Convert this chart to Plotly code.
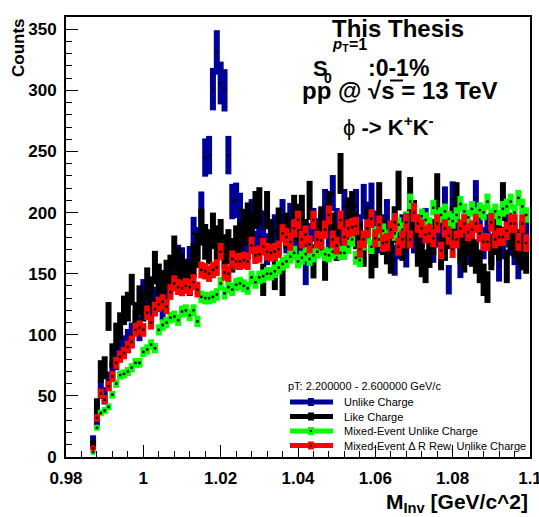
import numpy as np
import plotly.graph_objects as go

# Invariant-mass binning: 1 MeV/c^2 bins, centres from 0.987 to 1.099 GeV/c^2
bin_lo = 0.987
bin_w = 0.001
n_bins = 113
m_inv = np.round(bin_lo + bin_w * np.arange(n_bins), 4)

# Counts per bin
unlike = [14, 30, 55, 50, 62, 70, 80, 92, 90, 95,
          100, 110, 105, 134, 125, 120, 128, 130, 123, 140,
          145, 150, 161, 159, 150, 160, 183, 175, 203, 245,
          247, 301, 331, 306, 300, 247, 209, 210, 202, 180,
          175, 197, 172, 180, 188, 170, 175, 185, 178, 197,
          180, 194, 185, 175, 180, 153, 178, 190, 182, 185,
          205, 175, 216, 190, 180, 205, 185, 190, 205, 185,
          209, 195, 210, 188, 180, 185, 197, 180, 161, 175,
          185, 168, 190, 180, 175, 185, 190, 180, 172, 185,
          190, 207, 145, 211, 185, 159, 175, 170, 180, 212,
          190, 175, 185, 170, 180, 156, 175, 185, 178, 170,
          158, 180, 185]

like = [10, 41, 70, 73, 115, 83, 99, 107, 120, 123,
        137, 115, 128, 123, 142, 135, 155, 145, 140, 148,
        152, 167, 158, 153, 148, 145, 161, 169, 188, 176,
        172, 185, 175, 180, 168, 172, 165, 175, 178, 188,
        193, 185, 202, 205, 145, 202, 180, 150, 189, 145,
        185, 175, 199, 192, 199, 180, 210, 160, 178, 190,
        158, 202, 185, 175, 232, 180, 197, 202, 185, 178,
        170, 190, 160, 169, 209, 180, 172, 164, 190, 218,
        175, 185, 213, 195, 170, 161, 156, 169, 180, 216,
        167, 175, 185, 190, 209, 172, 165, 180, 170, 164,
        156, 145, 139, 167, 180, 175, 209, 156, 185, 178,
        172, 167, 164]

mixed = [4, 24, 36, 38, 41, 51, 60, 67, 68, 70,
         73, 77, 77, 86, 88, 92, 89, 104, 108, 110,
         114, 115, 112, 119, 120, 116, 120, 111, 131, 130,
         130, 131, 133, 142, 134, 139, 137, 141, 142, 140,
         138, 147, 143, 147, 148, 150, 150, 152, 155, 158,
         160, 164, 167, 160, 163, 166, 162, 165, 168, 170,
         166, 165, 168, 170, 167, 167, 172, 178, 163, 161,
         175, 180, 172, 183, 178, 185, 180, 187, 183, 190,
         186, 195, 209, 200, 192, 197, 194, 190, 204, 196,
         198, 201, 195, 193, 198, 207, 201, 196, 203, 198,
         202, 200, 209, 197, 201, 196, 203, 205, 209, 200,
         212, 205, 198]

mixed_dr = [7, 32, 52, 47, 58, 66, 77, 82, 85, 90,
            94, 104, 106, 104, 118, 110, 121, 125, 127, 123,
            135, 142, 139, 138, 140, 139, 143, 137, 153, 152,
            150, 153, 155, 168, 151, 150, 162, 160, 160, 161,
            160, 173, 165, 166, 172, 168, 167, 168, 170, 183,
            180, 176, 187, 194, 178, 182, 174, 194, 178, 177,
            186, 198, 178, 173, 194, 180, 187, 188, 189, 170,
            178, 187, 195, 179, 190, 175, 176, 186, 192, 172,
            178, 192, 178, 200, 191, 187, 182, 183, 179, 191,
            169, 187, 181, 170, 178, 187, 191, 184, 186, 191,
            183, 176, 176, 192, 178, 180, 180, 185, 191, 191,
            176, 191, 175]

# Statistical errors (Poisson; mixed-event samples are normalised, hence smaller)
series = [
    ("Unlike Charge", unlike, "#000099", 1.0),
    ("Like Charge", like, "#000000", 1.1),
    ("Mixed-Event Unlike Charge", mixed, "#00ff00", 0.45),
    ("Mixed-Event \u0394 R Rew. Unlike Charge", mixed_dr, "#ff0000", 0.55),
]

FONT = "Liberation Sans"
W, H = 539, 517
L, R, T, B = 66, 9, 17, 60
PW, PH = W - L - R, H - T - B


def px(x):
    return (x - L) / PW


def py(y):
    return (H - B - y) / PH


fig = go.Figure()
for name, vals, col, ef in series:
    v = np.array(vals, dtype=float)
    fig.add_trace(go.Scatter(
        x=m_inv, y=v, mode="markers", name=name,
        marker=dict(symbol="square", size=2.5, color="black", line=dict(width=0)),
        error_y=dict(type="data", array=ef * np.sqrt(v), color=col, thickness=6, width=0),
        error_x=dict(type="constant", value=bin_w / 2, color=col, thickness=6, width=0),
        showlegend=False,
    ))

shapes = []
annotations = []


def text(s, x, y, size, xanchor="center", yanchor="middle", bold=True, angle=0, italic=False):
    annotations.append(dict(
        text=s, x=px(x), y=py(y), xref="paper", yref="paper",
        xanchor=xanchor, yanchor=yanchor, showarrow=False, textangle=angle,
        font=dict(family=FONT, size=size, color="black",
                  weight="bold" if bold else "normal",
                  style="italic" if italic else "normal"),
    ))


# Legend
text("pT: 2.200000 - 2.600000 GeV/c", 286, 386, 11, xanchor="left", bold=False)
leg_y = [402, 416.5, 431, 445.5]
for (name, vals, col, ef), yy in zip(series, leg_y):
    shapes.append(dict(type="line", xref="paper", yref="paper",
                       x0=px(290), x1=px(333), y0=py(yy), y1=py(yy),
                       line=dict(color=col, width=5)))
    shapes.append(dict(type="rect", xref="paper", yref="paper",
                       x0=px(308), x1=px(314), y0=py(yy - 4), y1=py(yy + 4),
                       line=dict(width=0), fillcolor=col))
    shapes.append(dict(type="rect", xref="paper", yref="paper",
                       x0=px(310), x1=px(312), y0=py(yy - 1), y1=py(yy + 1),
                       line=dict(width=0), fillcolor="black"))
    text(name, 342, yy, 11, xanchor="left", bold=False)

# Header text
text("This Thesis", 398, 28, 24)
text("S", 320, 68, 22)
text("0", 327.5, 78, 14)
text("<i>p</i><sub>T</sub>", 330, 44, 15, xanchor="left")
text("=1", 347, 44, 16, xanchor="left")
text(":0-1%", 366, 68, 23, xanchor="left")
text("pp @ \u221as = 13 TeV", 400, 90, 24)
# overline of the square root
shapes.append(dict(type="line", xref="paper", yref="paper",
                   x0=px(390), x1=px(403), y0=py(80.5), y1=py(80.5),
                   line=dict(color="black", width=2)))
text("\u03d5 <b>-> K<sup>+</sup>K<sup>-</sup></b>", 388, 126, 22, bold=False)

# Axis titles
text("Counts", 18.5, 47.5, 17, angle=-90)
text("M<sub>Inv</sub> [GeV/c^2]", 530, 503, 21, xanchor="right")

tickfont = dict(family=FONT, size=17, color="black", weight="bold")
fig.update_xaxes(
    range=[0.98, 1.1],
    tickvals=[0.98, 1.0, 1.02, 1.04, 1.06, 1.08, 1.1],
    ticktext=["0.98", "1", "1.02", "1.04", "1.06", "1.08", "1.1"],
    ticks="inside", ticklen=12, tickwidth=1, tickcolor="black",
    minor=dict(dtick=0.004, ticks="inside", ticklen=6, tickwidth=1, tickcolor="black"),
    showline=True, linecolor="black", linewidth=2, mirror=True,
    showgrid=False, zeroline=False, tickfont=tickfont, ticklabelstandoff=5,
    ticklabeloverflow="allow", automargin=False,
)
fig.update_yaxes(
    range=[0, 360], dtick=50, tick0=0,
    ticks="inside", ticklen=12, tickwidth=1, tickcolor="black",
    minor=dict(dtick=10, ticks="inside", ticklen=6, tickwidth=1, tickcolor="black"),
    showline=True, linecolor="black", linewidth=2, mirror=True,
    showgrid=False, zeroline=False, tickfont=tickfont, ticklabelstandoff=4,
    ticklabeloverflow="allow", automargin=False,
)
fig.update_layout(
    width=W, height=H, margin=dict(l=L, r=R, t=T, b=B, autoexpand=False),
    plot_bgcolor="white", paper_bgcolor="white",
    showlegend=False, shapes=shapes, annotations=annotations,
)
fig.write_html("out.html")
